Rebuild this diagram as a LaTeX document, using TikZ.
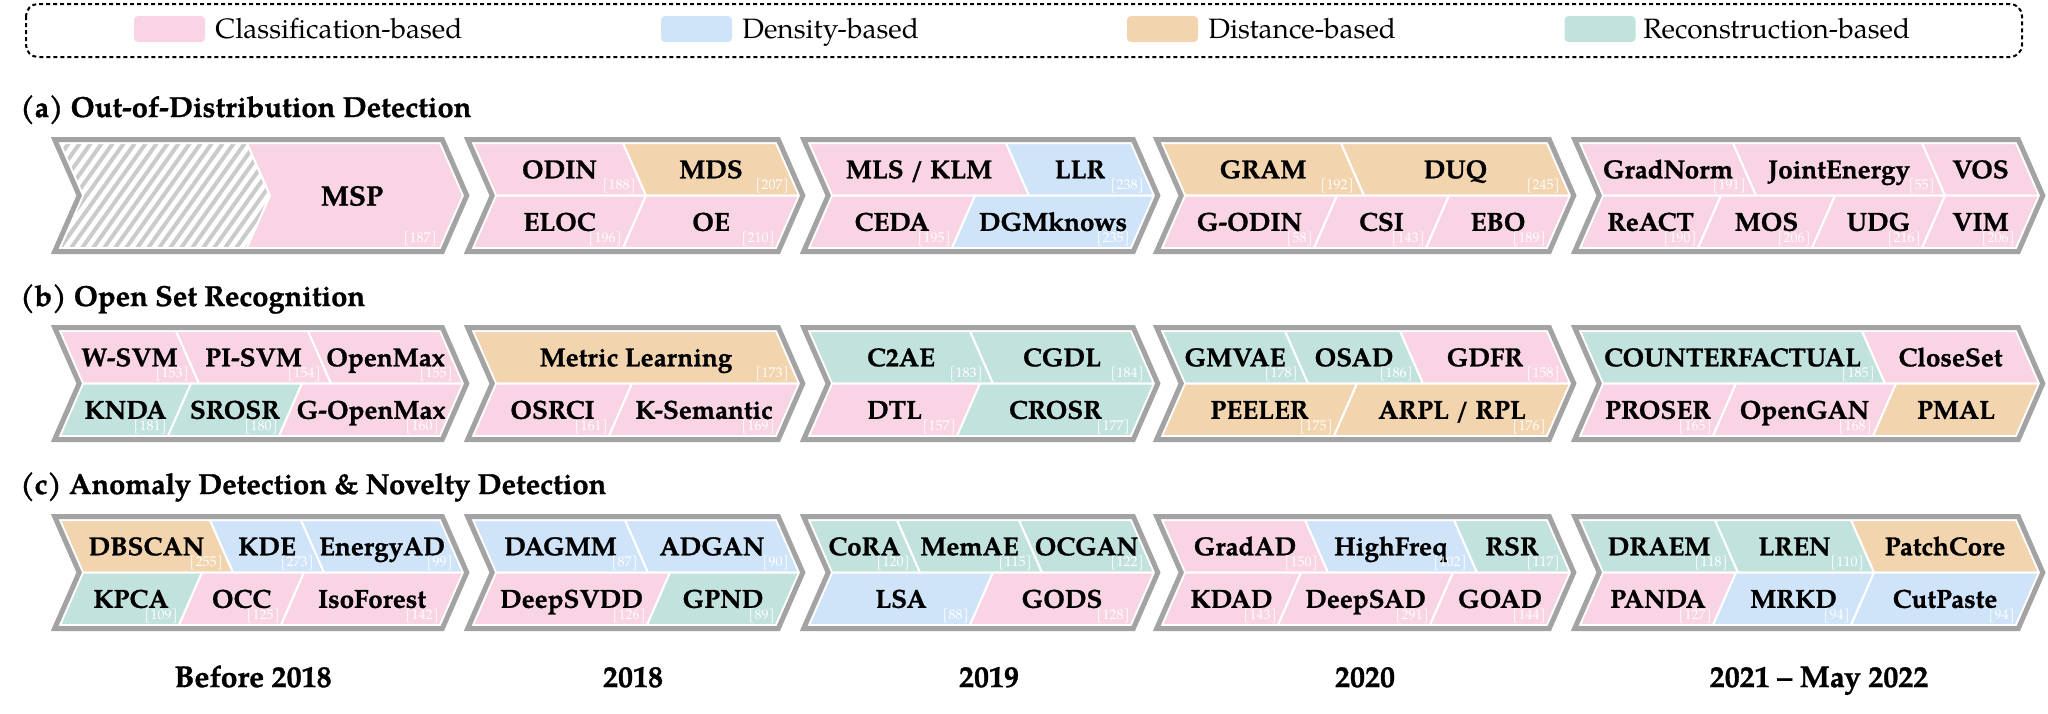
\documentclass[tikz,border=0pt]{standalone}
\usepackage{fontspec}
\setmainfont{TeX Gyre Pagella}[BoldFeatures={FakeBold=1}]
\definecolor{cpink}{HTML}{F9D4E4}
\definecolor{cblue}{HTML}{CFE4F9}
\definecolor{corange}{HTML}{F2D4AE}
\definecolor{cteal}{HTML}{C2E2DD}
\definecolor{cgray}{HTML}{A3A3A3}
\definecolor{chatch}{HTML}{CBCBCB}
\newcount\nodeno
\def\dd{23}
\def\hh{52.5}
\tikzset{
  nm/.style={font=\fontsize{13}{15}\selectfont\bfseries, inner sep=0pt},
  ttl/.style={font=\fontsize{14.5}{17}\selectfont\bfseries, inner sep=0pt},
  yr/.style={font=\fontsize{15}{17}\selectfont\bfseries, inner sep=0pt},
  lg/.style={font=\fontsize{14}{16}\selectfont, inner sep=0pt},
  ct/.style={font=\fontsize{7}{8}\selectfont, text=white, inner sep=0pt},
  cellfill/.style={fill=#1, draw=white, line width=1pt},
  chevframe/.style={draw=cgray, line width=2.5pt, line join=miter},
  hatchline/.style={draw=chatch, line width=2pt},
  swatch/.style={rounded corners=2pt, inner sep=0pt, minimum width=35.5pt, minimum height=13pt},
}
\newcommand\ucell[6]{%
  \filldraw[cellfill=#4] (#1,#3) -- (#2,#3) -- ({#2+\dd},{#3+\hh}) -- ({#1+\dd},{#3+\hh}) -- cycle;
  \global\advance\nodeno by 1
  \node[nm, anchor=base] (n\the\nodeno) at ({(#1+#2)/2+\dd/2},{#3+\hh/2+9}) {#5};
  \def\tmpcite{#6}%
  \ifx\tmpcite\empty\else
    \node[ct, anchor=south east] (c\the\nodeno) at ({#2+\dd-10},{#3+\hh-2}) {#6};
  \fi}
\newcommand\lcell[6]{%
  \filldraw[cellfill=#4] ({#1+\dd},{#3+\hh}) -- ({#2+\dd},{#3+\hh}) -- (#2,{#3+2*\hh}) -- (#1,{#3+2*\hh}) -- cycle;
  \global\advance\nodeno by 1
  \node[nm, anchor=base] (n\the\nodeno) at ({(#1+#2)/2+\dd/2},{#3+1.5*\hh+9}) {#5};
  \def\tmpcite{#6}%
  \ifx\tmpcite\empty\else
    \node[ct, anchor=south east] (c\the\nodeno) at ({#2-1},{#3+2*\hh-1.5}) {#6};
  \fi}
\newcommand\chevout[3]{%
  \draw[chevframe] ({#1-5.35},{#3-3.5}) -- ({#2+2.3},{#3-3.5}) -- ({#2+\dd+3.8},{#3+\hh}) -- ({#2+2.3},{#3+2*\hh+3.5}) -- ({#1-5.35},{#3+2*\hh+3.5}) -- ({#1+\dd-3.8},{#3+\hh}) -- cycle;}
\begin{document}
\begin{tikzpicture}[x=0.5pt,y=-0.5pt]
\useasboundingbox (0,0) rectangle (2048,713);
% legend
\draw[line width=1pt, rounded corners=6pt, dash pattern=on 2pt off 1.5pt] (26,4) rectangle (2022,57);
\node[swatch, fill=cpink] (s1) at (169.5,29) {};
\node[lg, anchor=base west] (l1) at (215,38) {Classification-based};
\node[swatch, fill=cblue] (s2) at (696.5,29) {};
\node[lg, anchor=base west] (l2) at (742,38) {Density-based};
\node[swatch, fill=corange] (s3) at (1162.5,29) {};
\node[lg, anchor=base west] (l3) at (1208,38) {Distance-based};
\node[swatch, fill=cteal] (s4) at (1600,29) {};
\node[lg, anchor=base west] (l4) at (1643,38) {Reconstruction-based};
% titles
\node[ttl, anchor=base west] (ta) at (20,117) {(a) Out-of-Distribution Detection};
\node[ttl, anchor=base west] (tb) at (20,306) {(b) Open Set Recognition};
\node[ttl, anchor=base west] (tc) at (20,494) {(c) Anomaly Detection \& Novelty Detection};
% years
\node[yr, anchor=base] (y1) at (253,687) {Before 2018};
\node[yr, anchor=base] (y2) at (633,687) {2018};
\node[yr, anchor=base] (y3) at (989,687) {2019};
\node[yr, anchor=base] (y4) at (1365,687) {2020};
\node[yr, anchor=base] (y5) at (1819,687) {2021 -- May 2022};
\def\Ta{143}
\def\Tb{331}
\def\Tc{520}
% ===== Row a =====
\begin{scope}
  \clip (60,\Ta) -- (247,\Ta) -- ({247+\dd},{\Ta+\hh}) -- (247,{\Ta+2*\hh}) -- (60,{\Ta+2*\hh}) -- ({60+\dd},{\Ta+\hh}) -- cycle;
  \fill[white] (0,0) rectangle (300,300);
  \foreach \k in {-8,...,20} \draw[hatchline] ({60+\k*11},{\Ta+2*\hh}) -- ++(75,-105);
\end{scope}
\draw[white, line width=1pt] (60,\Ta) -- (247,\Ta) -- ({247+\dd},{\Ta+\hh}) -- (247,{\Ta+2*\hh}) -- (60,{\Ta+2*\hh}) -- ({60+\dd},{\Ta+\hh}) -- cycle;
\filldraw[cellfill=cpink] (247,\Ta) -- (440,\Ta) -- ({440+\dd},{\Ta+\hh}) -- (440,{\Ta+2*\hh}) -- (247,{\Ta+2*\hh}) -- ({247+\dd},{\Ta+\hh}) -- cycle;
\node[nm, font=\fontsize{14}{16}\selectfont\bfseries, anchor=base] (msp) at (352,{\Ta+\hh+10}) {MSP};
\node[ct, anchor=south east] (mspc) at (437,{\Ta+2*\hh-2}) {[187]};
\chevout{60}{440}{\Ta}

\ucell{473}{623}{\Ta}{cpink}{ODIN}{[188]}
\ucell{623}{776}{\Ta}{corange}{MDS}{[207]}
\lcell{473}{623}{\Ta}{cpink}{ELOC}{[196]}
\lcell{623}{776}{\Ta}{cpink}{OE}{[210]}
\chevout{473}{776}{\Ta}

\ucell{809}{1006}{\Ta}{cpink}{MLS / KLM}{}
\ucell{1006}{1131}{\Ta}{cblue}{LLR}{[238]}
\lcell{809}{952}{\Ta}{cpink}{CEDA}{[195]}
\lcell{952}{1131}{\Ta}{cblue}{DGMknows}{[235]}
\chevout{809}{1131}{\Ta}

\ucell{1162}{1341}{\Ta}{corange}{GRAM}{[192]}
\ucell{1341}{1547}{\Ta}{corange}{DUQ}{[245]}
\lcell{1162}{1314}{\Ta}{cpink}{G-ODIN}{[58]}
\lcell{1314}{1426}{\Ta}{cpink}{CSI}{[143]}
\lcell{1426}{1547}{\Ta}{cpink}{EBO}{[189]}
\chevout{1162}{1547}{\Ta}

\ucell{1580}{1733}{\Ta}{cpink}{GradNorm}{[191]}
\ucell{1733}{1922}{\Ta}{cpink}{JointEnergy}{[55]}
\ucell{1922}{2016}{\Ta}{cpink}{VOS}{}
\lcell{1580}{1698}{\Ta}{cpink}{ReACT}{[190]}
\lcell{1698}{1812}{\Ta}{cpink}{MOS}{[206]}
\lcell{1812}{1922}{\Ta}{cpink}{UDG}{[216]}
\lcell{1922}{2016}{\Ta}{cpink}{VIM}{[206]}
\chevout{1580}{2016}{\Ta}

% ===== Row b =====
\ucell{60}{176}{\Tb}{cpink}{W-SVM}{[153]}
\ucell{176}{308}{\Tb}{cpink}{PI-SVM}{[154]}
\ucell{308}{440}{\Tb}{cpink}{OpenMax}{[155]}
\lcell{60}{168}{\Tb}{cteal}{KNDA}{[181]}
\lcell{168}{279}{\Tb}{cteal}{SROSR}{[180]}
\lcell{279}{440}{\Tb}{cpink}{G-OpenMax}{[160]}
\chevout{60}{440}{\Tb}

\ucell{473}{776}{\Tb}{corange}{Metric Learning}{[173]}
\lcell{473}{609}{\Tb}{cpink}{OSRCI}{[161]}
\lcell{609}{776}{\Tb}{cpink}{K-Semantic}{[169]}
\chevout{473}{776}{\Tb}

\ucell{809}{970}{\Tb}{cteal}{C2AE}{[183]}
\ucell{970}{1131}{\Tb}{cteal}{CGDL}{[184]}
\lcell{809}{957}{\Tb}{cpink}{DTL}{[157]}
\lcell{957}{1131}{\Tb}{cteal}{CROSR}{[177]}
\chevout{809}{1131}{\Tb}

\ucell{1162}{1285}{\Tb}{cteal}{GMVAE}{[178]}
\ucell{1285}{1400}{\Tb}{cteal}{OSAD}{[186]}
\ucell{1400}{1547}{\Tb}{cpink}{GDFR}{[158]}
\lcell{1162}{1334}{\Tb}{corange}{PEELER}{[175]}
\lcell{1334}{1547}{\Tb}{corange}{ARPL / RPL}{[176]}
\chevout{1162}{1547}{\Tb}

\ucell{1580}{1862}{\Tb}{cteal}{COUNTERFACTUAL}{[185]}
\ucell{1862}{2016}{\Tb}{cpink}{CloseSet}{}
\lcell{1580}{1713}{\Tb}{cpink}{PROSER}{[165]}
\lcell{1713}{1873}{\Tb}{cpink}{OpenGAN}{[168]}
\lcell{1873}{2016}{\Tb}{corange}{PMAL}{}
\chevout{1580}{2016}{\Tb}

% ===== Row c =====
\ucell{60}{210}{\Tc}{corange}{DBSCAN}{[255]}
\ucell{210}{301}{\Tc}{cblue}{KDE}{[273]}
\ucell{301}{440}{\Tc}{cblue}{EnergyAD}{[99]}
\lcell{60}{179}{\Tc}{cteal}{KPCA}{[109]}
\lcell{179}{281}{\Tc}{cpink}{OCC}{[125]}
\lcell{281}{440}{\Tc}{cpink}{IsoForest}{[142]}
\chevout{60}{440}{\Tc}

\ucell{473}{625}{\Tc}{cblue}{DAGMM}{[87]}
\ucell{625}{776}{\Tc}{cblue}{ADGAN}{[90]}
\lcell{473}{647}{\Tc}{cpink}{DeepSVDD}{[126]}
\lcell{647}{776}{\Tc}{cteal}{GPND}{[89]}
\chevout{473}{776}{\Tc}

\ucell{809}{897}{\Tc}{cteal}{CoRA}{[120]}
\ucell{897}{1019}{\Tc}{cteal}{MemAE}{[115]}
\ucell{1019}{1131}{\Tc}{cteal}{OCGAN}{[122]}
\lcell{809}{970}{\Tc}{cblue}{LSA}{[88]}
\lcell{970}{1131}{\Tc}{cpink}{GODS}{[128]}
\chevout{809}{1131}{\Tc}

\ucell{1162}{1305}{\Tc}{cpink}{GradAD}{[150]}
\ucell{1305}{1454}{\Tc}{cblue}{HighFreq}{[102]}
\ucell{1454}{1547}{\Tc}{cteal}{RSR}{[117]}
\lcell{1162}{1278}{\Tc}{cpink}{KDAD}{[143]}
\lcell{1278}{1430}{\Tc}{cpink}{DeepSAD}{[291]}
\lcell{1430}{1547}{\Tc}{cpink}{GOAD}{[144]}
\chevout{1162}{1547}{\Tc}

\ucell{1580}{1715}{\Tc}{cteal}{DRAEM}{[118]}
\ucell{1715}{1851}{\Tc}{cteal}{LREN}{[110]}
\ucell{1851}{2016}{\Tc}{corange}{PatchCore}{}
\lcell{1580}{1713}{\Tc}{cpink}{PANDA}{[127]}
\lcell{1713}{1851}{\Tc}{cblue}{MRKD}{[94]}
\lcell{1851}{2016}{\Tc}{cblue}{CutPaste}{[94]}
\chevout{1580}{2016}{\Tc}
\end{tikzpicture}
\end{document}
